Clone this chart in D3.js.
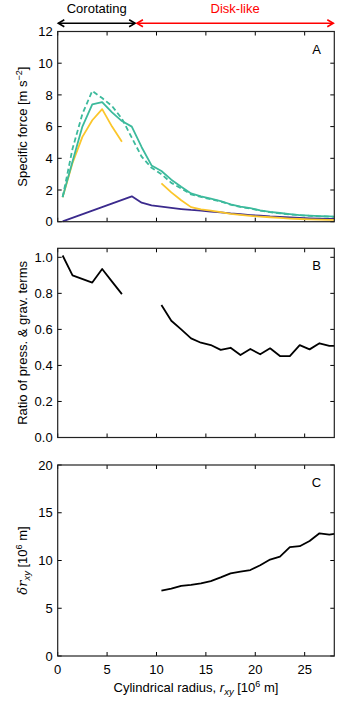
<!DOCTYPE html>
<html>
<head>
<meta charset="utf-8">
<script src="https://cdn.jsdelivr.net/npm/d3@7"></script>
<style>
  body { margin: 0; background: #fff; }
  svg { font-family: "Liberation Sans", Arial, sans-serif; }
</style>
</head>
<body>
<div id="chart"></div>
<script>
// radius bins (10^6 m)
var rA = [0.5, 1.5, 2.5, 3.5, 4.5, 5.5, 6.5, 7.5, 8.5, 9.5, 10.5, 11.5, 12.5, 13.5, 14.5, 15.5, 16.5, 17.5, 18.5, 19.5, 20.5, 21.5, 22.5, 23.5, 24.5, 25.5, 26.5, 27.5, 28];

// panel A: specific force
var totalForce = [1.55, 3.8, 6.0, 7.4, 7.55, 6.9, 6.35, 6.0, 4.7, 3.55, 3.2, 2.65, 2.2, 1.78, 1.6, 1.45, 1.3, 1.1, 0.95, 0.85, 0.72, 0.62, 0.55, 0.48, 0.42, 0.38, 0.35, 0.33, 0.32];
var totalForceDashed = [1.55, 4.6, 6.8, 8.25, 7.8, 7.3, 6.5, 5.3, 4.1, 3.4, 3.0, 2.45, 2.1, 1.72, 1.56, 1.42, 1.27, 1.08, 0.93, 0.83, 0.7, 0.6, 0.53, 0.46, 0.41, 0.37, 0.34, 0.32, 0.31];
var pressForce = [1.55, 3.7, 5.35, 6.4, 7.1, 6.0, 5.05, null, null, null, 2.42, 1.85, 1.35, 0.92, 0.78, 0.7, 0.6, 0.5, 0.43, 0.37, 0.32, 0.28, 0.24, 0.2, 0.17, 0.15, 0.13, 0.12, 0.12];
var gravForce = [0.02, null, null, null, null, null, null, 1.6, 1.2, 1.03, 0.95, 0.87, 0.8, 0.74, 0.7, 0.64, 0.59, 0.52, 0.47, 0.42, 0.38, 0.33, 0.3, 0.27, 0.24, 0.21, 0.19, 0.17, 0.17];

// panel B: ratio of pressure and gravity terms
var ratio = [1.01, 0.90, null, 0.86, 0.935, 0.865, 0.796, null, null, null, 0.735, 0.648, 0.60, 0.55, 0.526, 0.513, 0.486, 0.498, 0.458, 0.491, 0.462, 0.495, 0.452, 0.452, 0.513, 0.489, 0.523, 0.508, 0.508];

// panel C: delta r_xy
var deltaR = [null, null, null, null, null, null, null, null, null, null, 6.85, 7.05, 7.35, 7.45, 7.6, 7.85, 8.24, 8.66, 8.83, 9.0, 9.5, 10.1, 10.4, 11.4, 11.5, 12.05, 12.85, 12.7, 12.8];

var xTicks = [0, 5, 10, 15, 20, 25];
var ticksA = [0, 2, 4, 6, 8, 10, 12];
var ticksB = [0, 0.2, 0.4, 0.6, 0.8, 1.0];
var ticksC = [0, 5, 10, 15, 20];
var regions = [{label: "Corotating", from: 0, to: 7.9, color: "#000"},
               {label: "Disk-like", from: 7.9, to: 28, color: "#ff0000"}];

var W = 350, H = 712;
var left = 57.7, right = 334.3;
var fs = 13;
var svg = d3.select("#chart").append("svg").attr("width", W).attr("height", H);

var x = d3.scaleLinear().domain([0, 28]).range([left, right]);

var panels = [
  {top: 31.5, bottom: 221.7, domain: [0, 12], ticks: ticksA, fmt: d3.format("d"), letter: "A"},
  {top: 248.3, bottom: 437.5, domain: [0, 1.05], ticks: ticksB, fmt: d3.format(".1f"), letter: "B"},
  {top: 465, bottom: 656, domain: [0, 20], ticks: ticksC, fmt: d3.format("d"), letter: "C"}
];

function series(vals) {
  return rA.map(function(r, i) { return {x: r, y: vals[i]}; });
}

panels.forEach(function(p) {
  p.y = d3.scaleLinear().domain(p.domain).range([p.bottom, p.top]);
  var g = svg.append("g");

  // ticks pointing inward on all four sides
  var tk = 4;
  xTicks.forEach(function(t) {
    g.append("line").attr("x1", x(t)).attr("x2", x(t)).attr("y1", p.bottom).attr("y2", p.bottom - tk).attr("stroke", "#000");
    g.append("line").attr("x1", x(t)).attr("x2", x(t)).attr("y1", p.top).attr("y2", p.top + tk).attr("stroke", "#000");
  });
  p.ticks.forEach(function(t) {
    g.append("line").attr("x1", left).attr("x2", left + tk).attr("y1", p.y(t)).attr("y2", p.y(t)).attr("stroke", "#000");
    g.append("line").attr("x1", right).attr("x2", right - tk).attr("y1", p.y(t)).attr("y2", p.y(t)).attr("stroke", "#000");
    g.append("text").attr("x", left - 5).attr("y", p.y(t)).attr("dy", "0.36em")
      .attr("text-anchor", "end").attr("font-size", fs).text(p.fmt(t));
  });

  g.append("text").attr("x", 316.5).attr("y", p.top + 22).attr("text-anchor", "middle")
    .attr("font-size", fs).text(p.letter);
  p.g = g;
});

function draw(p, data, color, dash) {
  var l = d3.line()
    .defined(function(d) { return d.y != null; })
    .x(function(d) { return x(d.x); })
    .y(function(d) { return p.y(d.y); });
  p.g.append("path").datum(data).attr("d", l).attr("fill", "none")
    .attr("stroke", color).attr("stroke-width", 1.8).attr("stroke-linejoin", "round")
    .attr("stroke-dasharray", dash || null);
}

function present(d) { return d.y != null; }

var pA = panels[0], pB = panels[1], pC = panels[2];
// grav force runs straight from the first bin to the peak
draw(pA, series(gravForce).filter(present), "#3b2a8d");
draw(pA, series(pressForce), "#fbc62b");
draw(pA, series(totalForceDashed), "#3cba9c", "5,3");
draw(pA, series(totalForce), "#3cba9c");

// ratio: bin 2.5 is skipped, the run 1.5 -> 3.5 is straight
draw(pB, series(ratio).filter(function(d, i) { return i !== 2; }), "#000");

draw(pC, series(deltaR), "#000");

// frames
panels.forEach(function(p) {
  svg.append("rect").attr("x", left).attr("y", p.top).attr("width", right - left)
    .attr("height", p.bottom - p.top).attr("fill", "none").attr("stroke", "#222").attr("stroke-width", 1.2);
});

// x tick labels on the bottom panel
xTicks.forEach(function(t) {
  svg.append("text").attr("x", x(t)).attr("y", 673.5).attr("text-anchor", "middle")
    .attr("font-size", fs).text(t);
});

// x label
var xl = svg.append("text").attr("x", (left + right) / 2).attr("y", 692)
  .attr("text-anchor", "middle").attr("font-size", fs);
xl.append("tspan").text("Cylindrical radius, ");
xl.append("tspan").attr("font-style", "italic").text("r");
xl.append("tspan").attr("font-style", "italic").attr("font-size", 9.5).attr("dy", 3).text("xy");
xl.append("tspan").attr("dy", -3).text(" [10");
xl.append("tspan").attr("font-size", 9).attr("dy", -5).text("6");
xl.append("tspan").attr("dy", 5).text(" m]");

// y labels
function ylab(p) {
  var cy = (p.top + p.bottom) / 2;
  return svg.append("text").attr("transform", "translate(27," + cy + ") rotate(-90)")
    .attr("text-anchor", "middle").attr("font-size", fs);
}
var ya = ylab(pA);
ya.append("tspan").text("Specific force [m s");
ya.append("tspan").attr("font-size", 9).attr("dy", -5).text("\u22122");
ya.append("tspan").attr("dy", 5).text("]");

ylab(pB).text("Ratio of press. & grav. terms");

var yc = ylab(pC);
yc.append("tspan").attr("font-family", "DejaVu Serif").attr("font-style", "italic").text("\u03b4r");
yc.append("tspan").attr("font-style", "italic").attr("font-size", 9.5).attr("dy", 3).text("xy");
yc.append("tspan").attr("dy", -3).text(" [10");
yc.append("tspan").attr("font-size", 9).attr("dy", -5).text("6");
yc.append("tspan").attr("dy", 5).text(" m]");

// region arrows above the top panel
var ay = 23.3;
regions.forEach(function(r, i) {
  var x0 = x(r.from) + (i === 0 ? 0.6 : 1.2);
  var x1 = x(r.to) - (i === 0 ? 0.6 : 1);
  var g = svg.append("g").attr("stroke", r.color).attr("fill", "none").attr("stroke-width", 1.6);
  g.append("line").attr("x1", x0).attr("x2", x1).attr("y1", ay).attr("y2", ay);
  g.append("path").attr("d", "M" + (x0 + 6) + "," + (ay - 3.5) + "L" + x0 + "," + ay + "L" + (x0 + 6) + "," + (ay + 3.5));
  g.append("path").attr("d", "M" + (x1 - 6) + "," + (ay - 3.5) + "L" + x1 + "," + ay + "L" + (x1 - 6) + "," + (ay + 3.5));
  svg.append("text").attr("x", (x0 + x1) / 2).attr("y", 13).attr("text-anchor", "middle")
    .attr("font-size", fs).attr("fill", r.color).text(r.label);
});
</script>
</body>
</html>
